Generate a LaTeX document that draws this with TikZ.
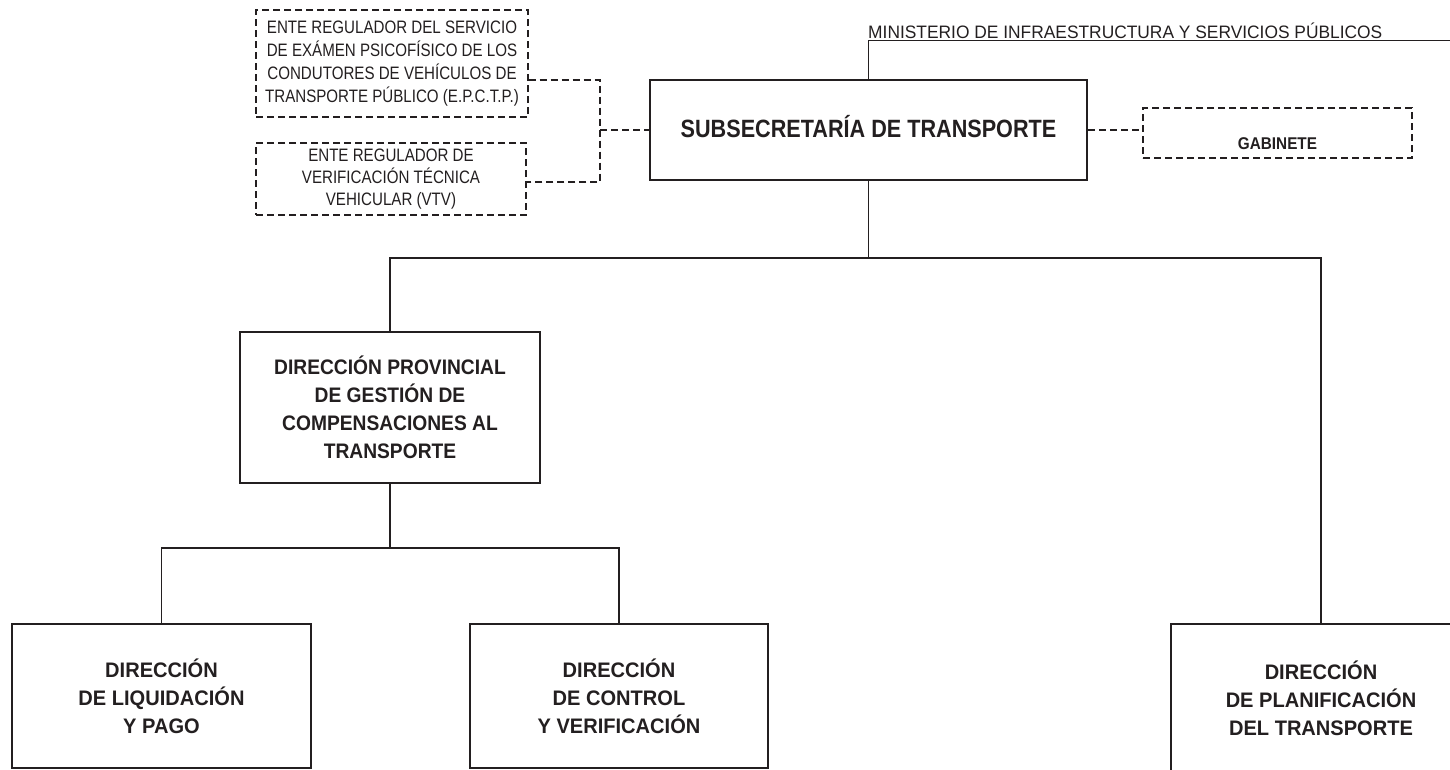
\documentclass[tikz,border=0pt]{standalone}
\usepackage{fontspec}
\setmainfont{Liberation Sans}
\newfontfamily\fsub[FakeStretch=0.865]{Liberation Sans}
\newfontfamily\fdp[FakeStretch=0.915]{Liberation Sans}
\newfontfamily\fbot[FakeStretch=0.955]{Liberation Sans}
\newfontfamily\fgab[FakeStretch=0.9]{Liberation Sans}
\newfontfamily\fmin[FakeStretch=0.965]{Liberation Sans}
\newfontfamily\fente[FakeStretch=0.84]{Liberation Sans}
\definecolor{ink}{HTML}{231F20}
\tikzset{
  box/.style={draw=ink, line width=2.9pt, fill=white, inner sep=0pt, align=center, text=ink},
  dbox/.style={draw=ink, line width=1.3pt, dash pattern=on 7pt off 4pt, fill=white, inner sep=0pt, align=center, text=ink},
  link/.style={draw=ink, line width=1.3pt},
  dlink/.style={link, dash pattern=on 7pt off 4pt},
  subfont/.style={font=\fsub\bfseries\fontsize{25}{28}\selectfont},
  dpfont/.style={font=\fdp\bfseries\fontsize{21}{28}\selectfont},
  botfont/.style={font=\fbot\bfseries\fontsize{21}{28}\selectfont},
  entefont/.style={font=\fente\fontsize{18}{23}\selectfont},
}
\begin{document}
\begin{tikzpicture}[x=1pt,y=-1pt]
\useasboundingbox (0,0) rectangle (1450,769);
\clip (0,0) rectangle (1450,769);

% nodes
\node[box, subfont, minimum width=437pt, minimum height=100pt, text height=18pt, text depth=3pt] (sub) at (868.5,130) {SUBSECRETARÍA DE TRANSPORTE};
\node[dbox, font=\fgab\bfseries\fontsize{17}{20}\selectfont, minimum width=269pt, minimum height=50pt, text height=32pt, text depth=0pt] (gab) at (1277.5,133) {GABINETE};
\node[dbox, entefont, minimum width=272pt, minimum height=107pt] (e1) at (392,63.5) {ENTE REGULADOR DEL SERVICIO\\DE EXÁMEN PSICOFÍSICO DE LOS\\CONDUTORES DE VEHÍCULOS DE\\TRANSPORTE PÚBLICO (E.P.C.T.P.)};
\node[dbox, font=\fente\fontsize{18}{22}\selectfont, minimum width=270pt, minimum height=72pt] (e2) at (391,179) {ENTE REGULADOR DE\\VERIFICACIÓN TÉCNICA\\VEHICULAR (VTV)};
\node[anchor=base west, inner sep=0pt, text=ink, font=\fmin\fontsize{18}{22}\selectfont] (min) at (868,38) {MINISTERIO DE INFRAESTRUCTURA Y SERVICIOS PÚBLICOS};

\node[box, dpfont, minimum width=300pt, minimum height=151pt] (dp) at (390,407.5) {DIRECCIÓN PROVINCIAL\\DE GESTIÓN DE\\COMPENSACIONES AL\\TRANSPORTE};
\node[box, botfont, minimum width=299pt, minimum height=144pt] (dl) at (161.5,696) {DIRECCIÓN\\DE LIQUIDACIÓN\\Y PAGO};
\node[box, botfont, minimum width=298pt, minimum height=144pt] (dc) at (619,696) {DIRECCIÓN\\DE CONTROL\\Y VERIFICACIÓN};
\node[box, botfont, minimum width=300pt, minimum height=148pt] (dpt) at (1321,698) {DIRECCIÓN\\DE PLANIFICACIÓN\\DEL TRANSPORTE};

% connectors
\coordinate (mend) at (1450,40.7);
\draw[link] (mend) -- (sub.north |- mend) -- (sub.north);

\coordinate (j1) at (600,80);
\coordinate (j2) at (600,182);
\coordinate (jm) at (600,130);
\draw[dlink] (e1.east |- j1) -- (j1) -- (j2) -- (e2.east |- j2);
\draw[dlink] (jm) -- (sub.west);
\draw[dlink] (sub.east) -- (gab.west |- sub.east);

\coordinate (b1) at (390,258);
\coordinate (b2) at (1321,258);
\draw[link] (sub.south) -- (sub.south |- b1);
\draw[link] (dp.north) -- (b1) -- (b2) -- (dpt.north);

\coordinate (c1) at (161.5,548);
\coordinate (c2) at (619,548);
\draw[link] (dp.south) -- (dp.south |- c1);
\draw[link] (dl.north) -- (c1) -- (c2) -- (dc.north);
\end{tikzpicture}
\end{document}
